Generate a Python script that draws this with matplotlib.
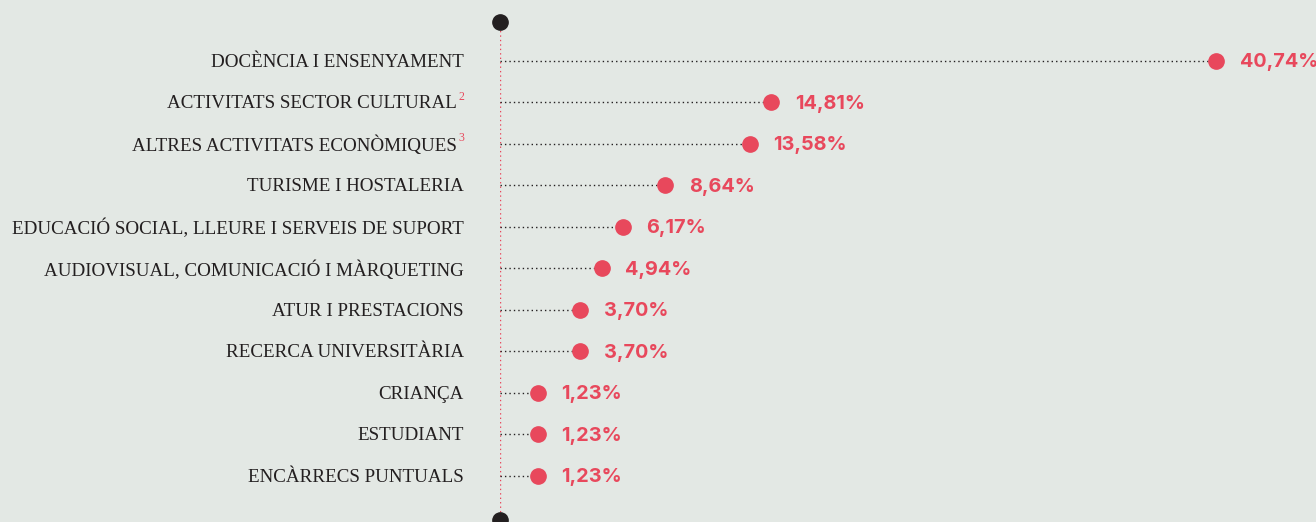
import matplotlib.pyplot as plt

categories = [
    "DOCÈNCIA I ENSENYAMENT",
    "ACTIVITATS SECTOR CULTURAL",
    "ALTRES ACTIVITATS ECONÒMIQUES",
    "TURISME I HOSTALERIA",
    "EDUCACIÓ SOCIAL, LLEURE I SERVEIS DE SUPORT",
    "AUDIOVISUAL, COMUNICACIÓ I MÀRQUETING",
    "ATUR I PRESTACIONS",
    "RECERCA UNIVERSITÀRIA",
    "CRIANÇA",
    "ESTUDIANT",
    "ENCÀRRECS PUNTUALS",
]
values = [40.74, 14.81, 13.58, 8.64, 6.17, 4.94, 3.70, 3.70, 1.23, 1.23, 1.23]
notes = ["", "2", "3", "", "", "", "", "", "", "", ""]

bg = "#e3e8e4"
red = "#e8485c"
dark = "#231f20"

W, H = 1316, 522
fig = plt.figure(figsize=(W / 100, H / 100), dpi=100, facecolor=bg)
ax = fig.add_axes([500 / W, 0, 1 - 500 / W, 1])
ax.set_facecolor(bg)
ax.axis("off")

x0 = -0.985
ax.set_xlim(x0, x0 + 816 / 17.16)
ax.set_ylim(11.11, -1.47)

# vertical axis with end dots
ax.plot([x0, x0], [-0.85, 10.95], color=red, lw=1, ls=(0, (1, 2.2)))
ax.plot([x0, x0], [-0.94, 11.07], "o", color=dark, ms=11, clip_on=False, zorder=5)

for i, (cat, v, n) in enumerate(zip(categories, values, notes)):
    ax.plot([x0, v], [i, i], color=dark, lw=1, ls=(0, (1, 2.2)), zorder=2)
    ax.plot(v, i, "o", color=red, ms=11, zorder=3)
    ax.annotate(f"{v:.2f}%".replace(".", ","), (v, i), xytext=(17, -0.8),
                textcoords="offset points", ha="left", va="center",
                color=red, fontsize=14.3, fontweight="bold", family="Inter")
    shift = -26
    if n:
        ax.annotate(n, (x0, i), xytext=(shift, 4), textcoords="offset points",
                    ha="right", va="center", color=red, fontsize=8.5,
                    family="Liberation Serif")
        shift -= 5
    ax.annotate(cat, (x0, i), xytext=(shift, -1), textcoords="offset points",
                ha="right", va="center", color=dark, fontsize=13.7,
                family="Liberation Serif")

fig.savefig("out.png", dpi=100, facecolor=bg)
